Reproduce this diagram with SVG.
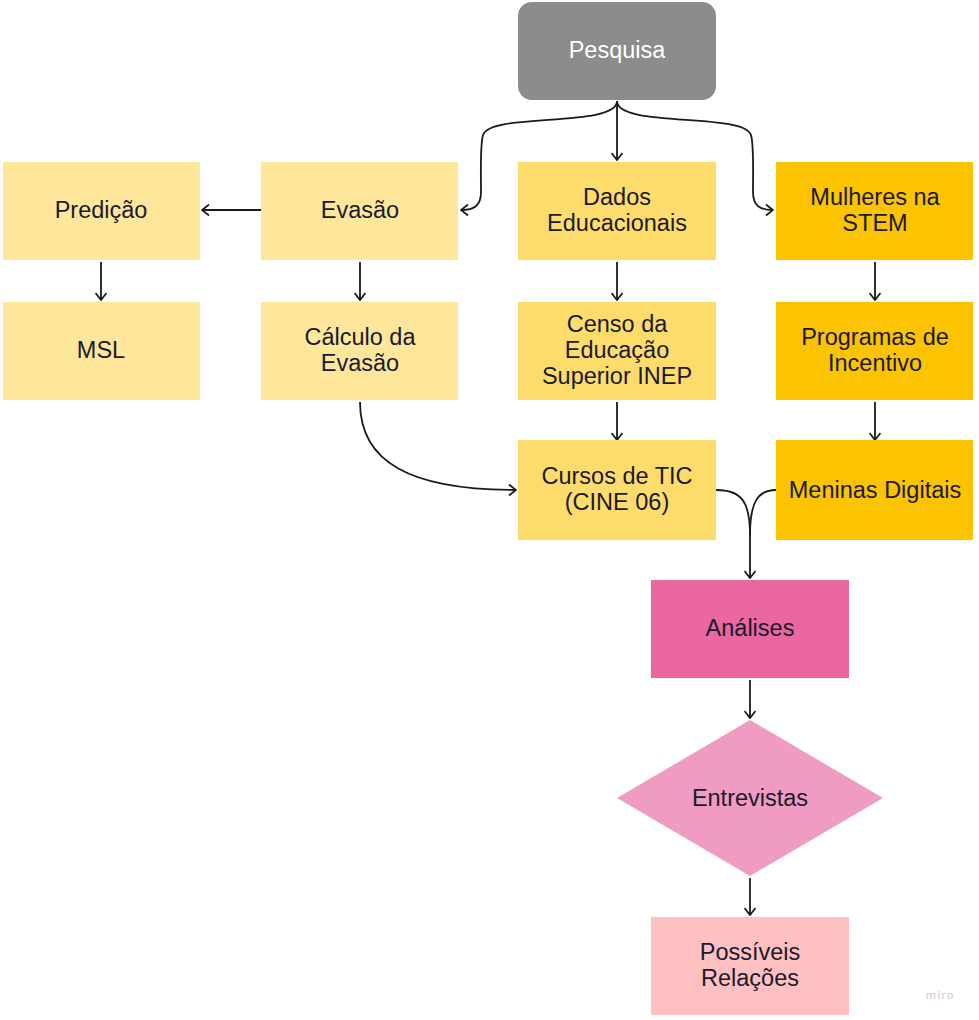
<svg xmlns="http://www.w3.org/2000/svg" width="979" height="1020" viewBox="0 0 979 1020">
<defs>
<marker id="arr" markerWidth="12" markerHeight="12" viewBox="0 0 12 12" refX="11" refY="6" orient="auto" markerUnits="userSpaceOnUse">
<polyline points="4,0.5 11,6 4,11.5" fill="none" stroke="#1a1a1a" stroke-width="1.8"/>
</marker>
<style>
.t{font-family:"Liberation Sans",Arial,sans-serif;font-size:23.5px;fill:#1a1a2e;text-anchor:middle}
.w{fill:#ffffff}
.c{fill:none;stroke:#1a1a1a;stroke-width:1.8;marker-end:url(#arr)}
.c0{fill:none;stroke:#1a1a1a;stroke-width:1.8}
.y1{fill:#fee79b}
.y2{fill:#fedc6b}
.y3{fill:#fcc300}
</style>
</defs>
<rect width="979" height="1020" fill="#ffffff"/>
<g id="connectors">
<path class="c" d="M617,101 L617,160"/>
<path class="c" d="M617,101 C617,128 490,112 483,135 C480,145 481,175 481,192 C481,206 474,210 461,210"/>
<path class="c" d="M617,101 C617,128 744,112 751,135 C754,145 753,175 753,192 C753,206 760,210 773,210"/>
<path class="c" d="M261,210 L202,210"/>
<path class="c" d="M101,262 L101,300"/>
<path class="c" d="M360,262 L360,300"/>
<path class="c" d="M617,262 L617,300"/>
<path class="c" d="M617,402 L617,440"/>
<path class="c" d="M875,262 L875,300"/>
<path class="c" d="M875,402 L875,440"/>
<path class="c" d="M360,402 C360,462 410,490 516,490"/>
<path class="c" d="M716,490 C742,490 750,502 750,535 L750,578"/>
<path class="c0" d="M776,490 C758,490 750,502 750,535"/>
<path class="c" d="M750,680 L750,718"/>
<path class="c" d="M750,878 L750,915"/>
</g>
<g id="pesquisa"><rect x="518" y="2" width="198" height="98" rx="14" fill="#8c8c8c"/><text class="t w" x="617" y="58">Pesquisa</text></g>
<g id="predicao"><rect class="y1" x="3" y="162" width="197" height="98"/><text class="t" x="101" y="218">Predição</text></g>
<g id="msl"><rect class="y1" x="3" y="302" width="197" height="98"/><text class="t" x="101" y="358">MSL</text></g>
<g id="evasao"><rect class="y1" x="261" y="162" width="197" height="98"/><text class="t" x="360" y="218">Evasão</text></g>
<g id="calculo"><rect class="y1" x="261" y="302" width="197" height="98"/><text class="t" x="360" y="345">Cálculo da</text><text class="t" x="360" y="371">Evasão</text></g>
<g id="dados"><rect class="y2" x="518" y="162" width="198" height="98"/><text class="t" x="617" y="205">Dados</text><text class="t" x="617" y="231">Educacionais</text></g>
<g id="censo"><rect class="y2" x="518" y="302" width="198" height="98"/><text class="t" x="617" y="332">Censo da</text><text class="t" x="617" y="358">Educação</text><text class="t" x="617" y="384">Superior INEP</text></g>
<g id="cursos"><rect class="y2" x="518" y="440" width="198" height="100"/><text class="t" x="617" y="484">Cursos de TIC</text><text class="t" x="617" y="510">(CINE 06)</text></g>
<g id="mulheres"><rect class="y3" x="776" y="162" width="197" height="98"/><text class="t" x="875" y="205">Mulheres na</text><text class="t" x="875" y="231">STEM</text></g>
<g id="programas"><rect class="y3" x="776" y="302" width="197" height="98"/><text class="t" x="875" y="345">Programas de</text><text class="t" x="875" y="371">Incentivo</text></g>
<g id="meninas"><rect class="y3" x="776" y="440" width="197" height="100"/><text class="t" x="875" y="498">Meninas Digitais</text></g>
<g id="analises"><rect x="651" y="580" width="198" height="98" fill="#ea67a0"/><text class="t" x="750" y="636">Análises</text></g>
<g id="entrevistas"><polygon points="750,720 883,798 750,876 617,798" fill="#f09bc2"/><text class="t" x="750" y="806">Entrevistas</text></g>
<g id="possiveis"><rect x="651" y="917" width="198" height="98" fill="#ffc0c1"/><text class="t" x="750" y="960">Possíveis</text><text class="t" x="750" y="986">Relações</text></g>
<text x="940" y="999" font-family="'DejaVu Sans',sans-serif" font-size="11" fill="#c8c8d0" text-anchor="middle" letter-spacing="1">miro</text>
</svg>
